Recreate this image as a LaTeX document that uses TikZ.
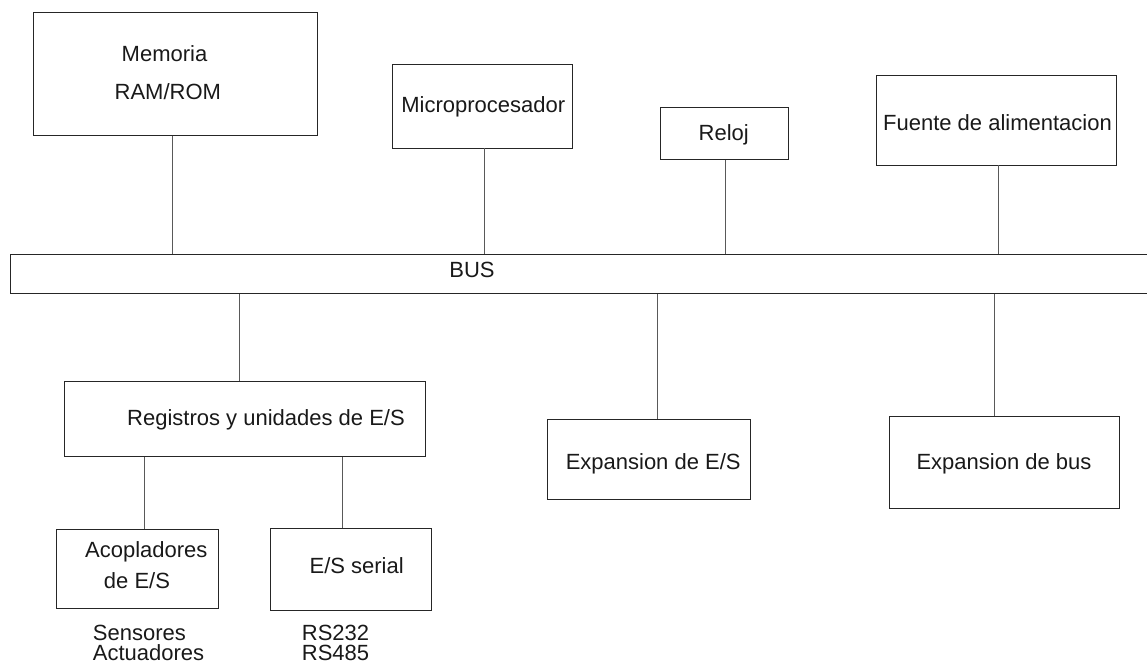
\documentclass[tikz,border=0pt]{standalone}
\usepackage{fontspec}
\setmainfont{Liberation Sans}
\begin{document}
\begin{tikzpicture}[x=1pt,y=-1pt,
  box/.style={draw=black!85,line width=0.9pt,inner sep=0pt,rectangle},
  lbl/.style={anchor=base,inner sep=0pt,font=\fontsize{22}{22}\selectfont,text=black!90},
  lbll/.style={anchor=base west,inner sep=0pt,font=\fontsize{22}{22}\selectfont,text=black!90},
  wire/.style={draw=black!65,line width=0.9pt}]
\useasboundingbox (0,0) rectangle (1147,664);
\clip (0,0) rectangle (1147,664);
% boxes
\node[box,minimum width=284pt,minimum height=122.7pt] (mem) at (175.3,73.7) {};
\node[box,minimum width=180.7pt,minimum height=84pt] (micro) at (482.3,106) {};
\node[box,minimum width=128pt,minimum height=51.6pt] (reloj) at (724,133.5) {};
\node[box,minimum width=240.7pt,minimum height=89.3pt] (fuente) at (996.3,120.3) {};
\node[box,minimum width=1150pt,minimum height=39pt] (bus) at (585,273.8) {};
\node[box,minimum width=361.7pt,minimum height=75.7pt] (reg) at (244.8,418.8) {};
\node[box,minimum width=202.6pt,minimum height=79.7pt] (expio) at (649,459.2) {};
\node[box,minimum width=230pt,minimum height=92.3pt] (expbus) at (1004.3,462.2) {};
\node[box,minimum width=162pt,minimum height=79.3pt] (acop) at (137.7,568.7) {};
\node[box,minimum width=161pt,minimum height=82pt] (serial) at (351.2,569) {};
% texts
\node[lbl] (tmem1) at (164.5,61) {Memoria};
\node[lbl] (tmem2) at (167.8,99) {RAM/ROM};
\node[lbl] (tmicro) at (483.3,112.7) {Microprocesador};
\node[lbl] (treloj) at (723.8,140) {Reloj};
\node[lbl] (tfuente) at (997.5,130.7) {Fuente de alimentacion};
\node[lbl] (tbus) at (472,277.7) {BUS};
\node[lbl] (treg) at (266,425.7) {Registros y unidades de E/S};
\node[lbl] (texpio) at (653.2,469) {Expansion de E/S};
\node[lbl] (texpbus) at (1004,469) {Expansion de bus};
\node[lbl] (tacop1) at (146.3,557.3) {Acopladores};
\node[lbl] (tacop2) at (137,588.3) {de E/S};
\node[lbl] (tserial) at (356.7,573.3) {E/S serial};
\node[lbll] (tsens) at (92.7,640) {Sensores};
\node[lbll] (tact) at (92.7,660.5) {Actuadores};
\node[lbll] (trs1) at (301.7,640) {RS232};
\node[lbll] (trs2) at (301.7,660.5) {RS485};
% connector x positions
\coordinate (cm) at (172,0);
\coordinate (cp) at (484,0);
\coordinate (cr) at (725.7,0);
\coordinate (cf) at (998,0);
\coordinate (cg) at (239,0);
\coordinate (ce) at (657.3,0);
\coordinate (cb) at (994,0);
\coordinate (ca) at (144,0);
\coordinate (cs) at (342.3,0);
% connectors
\draw[wire] (mem.south -| cm) -- (bus.north -| cm);
\draw[wire] (micro.south -| cp) -- (bus.north -| cp);
\draw[wire] (reloj.south -| cr) -- (bus.north -| cr);
\draw[wire] (fuente.south -| cf) -- (bus.north -| cf);
\draw[wire] (bus.south -| cg) -- (reg.north -| cg);
\draw[wire] (bus.south -| ce) -- (expio.north -| ce);
\draw[wire] (bus.south -| cb) -- (expbus.north -| cb);
\draw[wire] (reg.south -| ca) -- (acop.north -| ca);
\draw[wire] (reg.south -| cs) -- (serial.north -| cs);
\end{tikzpicture}
\end{document}
